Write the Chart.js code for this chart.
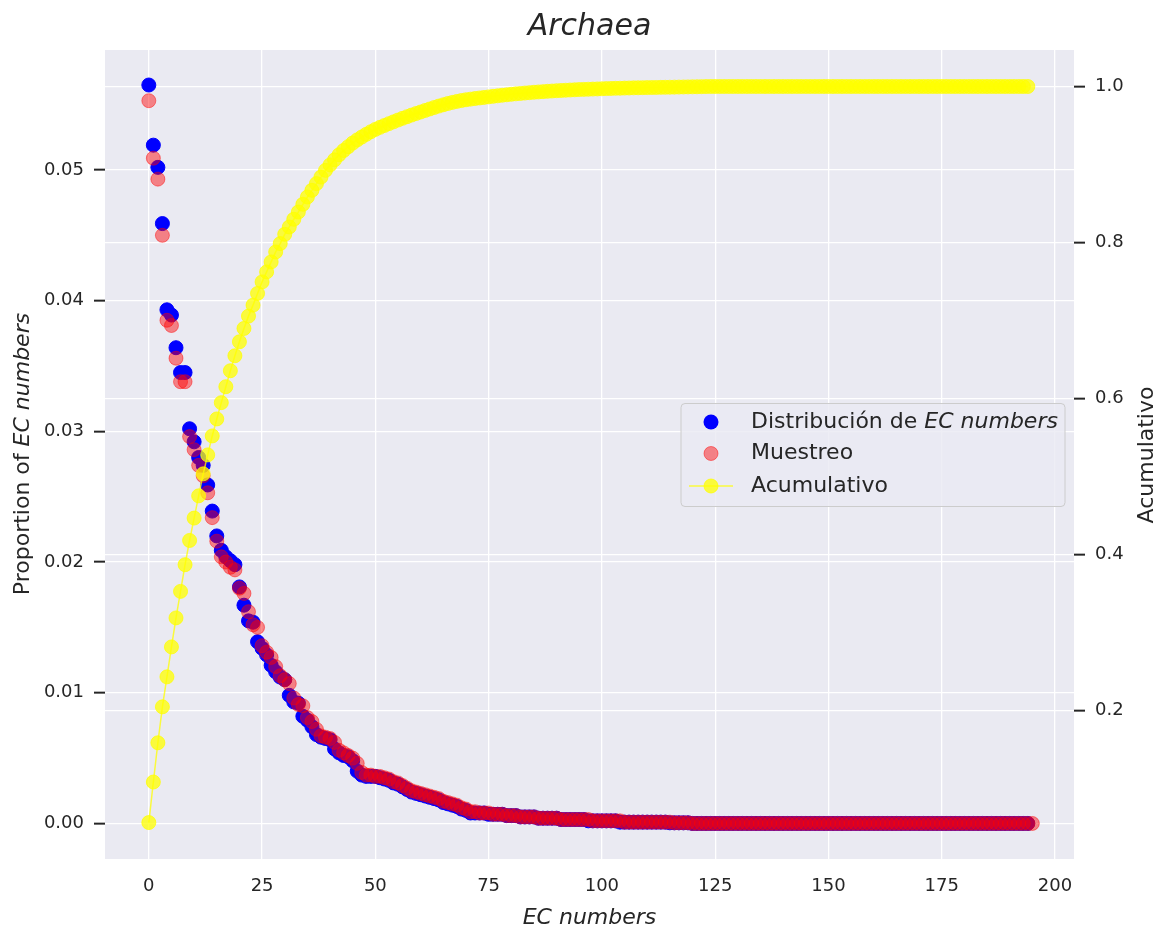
<!DOCTYPE html>
<html>
<head>
<meta charset="utf-8">
<script src="https://cdn.jsdelivr.net/npm/chart.js@4.4.1/dist/chart.umd.min.js"></script>
<style>
  html, body { margin: 0; padding: 0; background: #ffffff; }
  #wrap { width: 1157px; height: 930px; }
</style>
</head>
<body>
<div id="wrap"><canvas id="chart" width="1157" height="930"></canvas></div>
<script>
// proportion of each EC number (blue), index = EC number rank
const distribucion = [
  0.0565, 0.0519, 0.0502, 0.0459, 0.0393, 0.0389, 0.0364, 0.0345, 0.0345, 0.0302,
  0.0292, 0.0280, 0.0274, 0.0259, 0.0239, 0.0220, 0.0209, 0.0204, 0.0201, 0.0198,
  0.0181, 0.0167, 0.0155, 0.0154, 0.0139, 0.0134, 0.0129, 0.0121, 0.0116, 0.0112,
  0.0110, 0.0098, 0.0093, 0.0092, 0.0082, 0.0079, 0.0074, 0.0068, 0.0066, 0.0065,
  0.0064, 0.0057, 0.0054, 0.0052, 0.0051, 0.0048, 0.0040, 0.0037, 0.0036, 0.0036,
  0.0036, 0.0035, 0.0034, 0.0033, 0.0031, 0.0030, 0.0028, 0.0026, 0.0024, 0.0023,
  0.0022, 0.0021, 0.0020, 0.0019, 0.0018, 0.0016, 0.0015, 0.0014, 0.0013, 0.0011,
  0.0010, 0.0008, 0.0008, 0.0008, 0.0008, 0.0007, 0.0007, 0.0007, 0.0007, 0.0006,
  0.0006, 0.0006, 0.0005, 0.0005, 0.0005, 0.0005, 0.0004, 0.0004, 0.0004, 0.0004,
  0.0004, 0.0003, 0.0003, 0.0003, 0.0003, 0.0003, 0.0003, 0.0002, 0.0002, 0.0002,
  0.0002, 0.0002, 0.0002, 0.0002, 0.0001, 0.0001, 0.0001, 0.0001, 0.0001, 0.0001,
  0.0001, 0.0001, 0.0001, 0.0001, 0.0001, 0.00005, 0.00005, 0.00005, 0.00005, 0.00005,
  0, 0, 0, 0, 0, 0, 0, 0, 0, 0,
  0, 0, 0, 0, 0, 0, 0, 0, 0, 0,
  0, 0, 0, 0, 0, 0, 0, 0, 0, 0,
  0, 0, 0, 0, 0, 0, 0, 0, 0, 0,
  0, 0, 0, 0, 0, 0, 0, 0, 0, 0,
  0, 0, 0, 0, 0, 0, 0, 0, 0, 0,
  0, 0, 0, 0, 0, 0, 0, 0, 0, 0,
  0, 0, 0, 0, 0
];

// sampled proportions (red)
const muestreo = [
  0.0553, 0.0509, 0.0493, 0.0450, 0.0385, 0.0381, 0.0356, 0.0338, 0.0338, 0.0296,
  0.0286, 0.0274, 0.0266, 0.0253, 0.0234, 0.0216, 0.0204, 0.0200, 0.0196, 0.0194,
  0.0180, 0.0176, 0.0162, 0.0152, 0.0150, 0.0136, 0.0131, 0.0127, 0.0120, 0.0113,
  0.0110, 0.0107, 0.0096, 0.0091, 0.0090, 0.0081, 0.0078, 0.0072, 0.0067, 0.0066,
  0.0065, 0.0062, 0.0056, 0.0054, 0.0052, 0.0050, 0.0046, 0.0039, 0.0037, 0.0037,
  0.0036, 0.0036, 0.0035, 0.0034, 0.0032, 0.0031, 0.0029, 0.0027, 0.0025, 0.0024,
  0.0023, 0.0022, 0.0021, 0.0020, 0.0019, 0.0017, 0.0016, 0.0015, 0.0014, 0.0012,
  0.0011, 0.0009, 0.0009, 0.0008, 0.0008, 0.0008, 0.0007, 0.0007, 0.0007, 0.0006,
  0.0006, 0.0006, 0.0005, 0.0005, 0.0005, 0.0005, 0.0004, 0.0004, 0.0004, 0.0004,
  0.0004, 0.0003, 0.0003, 0.0003, 0.0003, 0.0003, 0.0003, 0.0003, 0.0002, 0.0002,
  0.0002, 0.0002, 0.0002, 0.0002, 0.0002, 0.0001, 0.0001, 0.0001, 0.0001, 0.0001,
  0.0001, 0.0001, 0.0001, 0.0001, 0.0001, 0.0001, 0.00005, 0.00005, 0.00005, 0.00005,
  0, 0, 0, 0, 0, 0, 0, 0, 0, 0,
  0, 0, 0, 0, 0, 0, 0, 0, 0, 0,
  0, 0, 0, 0, 0, 0, 0, 0, 0, 0,
  0, 0, 0, 0, 0, 0, 0, 0, 0, 0,
  0, 0, 0, 0, 0, 0, 0, 0, 0, 0,
  0, 0, 0, 0, 0, 0, 0, 0, 0, 0,
  0, 0, 0, 0, 0, 0, 0, 0, 0, 0,
  0, 0, 0, 0, 0, 0
];

// cumulative share (yellow, right axis)
const acumulativo = [
  0.0563, 0.1083, 0.1586, 0.2047, 0.2431, 0.2815, 0.3187, 0.3527, 0.3869, 0.4180,
  0.4467, 0.4752, 0.5034, 0.5277, 0.5520, 0.5738, 0.5947, 0.6151, 0.6356, 0.6548,
  0.6727, 0.6898, 0.7056, 0.7197, 0.7347, 0.7495, 0.7623, 0.7751, 0.7879, 0.7986,
  0.8105, 0.8199, 0.8298, 0.8391, 0.8490, 0.8583, 0.8669, 0.8755, 0.8839, 0.8925,
  0.8995, 0.9060, 0.9125, 0.9180, 0.9228, 0.9275, 0.9316, 0.9352, 0.9387, 0.9420,
  0.9450, 0.9476, 0.9500, 0.9524, 0.9547, 0.9570, 0.9592, 0.9613, 0.9634, 0.9654,
  0.9673, 0.9693, 0.9712, 0.9731, 0.9749, 0.9766, 0.9782, 0.9796, 0.9809, 0.9820,
  0.9830, 0.9838, 0.9846, 0.9853, 0.9860, 0.9867, 0.9874, 0.9881, 0.9888, 0.9894,
  0.9900, 0.9906, 0.9911, 0.9916, 0.9921, 0.9926, 0.9930, 0.9934, 0.9938, 0.9942,
  0.9946, 0.9949, 0.9952, 0.9955, 0.9958, 0.9961, 0.9963, 0.9965, 0.9967, 0.9969,
  0.9971, 0.9973, 0.9975, 0.9977, 0.9978, 0.9980, 0.9981, 0.9983, 0.9984, 0.9985,
  0.9986, 0.9987, 0.9988, 0.9989, 0.9990, 0.9991, 0.9992, 0.9993, 0.9994, 0.9995,
  0.9996, 0.9997, 0.9998, 0.9999, 1.0,
  1.0, 1.0, 1.0, 1.0, 1.0, 1.0, 1.0, 1.0, 1.0, 1.0,
  1.0, 1.0, 1.0, 1.0, 1.0, 1.0, 1.0, 1.0, 1.0, 1.0,
  1.0, 1.0, 1.0, 1.0, 1.0, 1.0, 1.0, 1.0, 1.0, 1.0,
  1.0, 1.0, 1.0, 1.0, 1.0, 1.0, 1.0, 1.0, 1.0, 1.0,
  1.0, 1.0, 1.0, 1.0, 1.0, 1.0, 1.0, 1.0, 1.0, 1.0,
  1.0, 1.0, 1.0, 1.0, 1.0, 1.0, 1.0, 1.0, 1.0, 1.0,
  1.0, 1.0, 1.0, 1.0, 1.0, 1.0, 1.0, 1.0, 1.0, 1.0
];

const xTicks = [0, 25, 50, 75, 100, 125, 150, 175, 200];
const leftTicks = [0.00, 0.01, 0.02, 0.03, 0.04, 0.05];
const rightTicks = [0.2, 0.4, 0.6, 0.8, 1.0];

const FONT = "'DejaVu Sans', sans-serif";
const TEXT = '#262626';
const BG = '#eaeaf2';

const toPoints = arr => arr.map((v, i) => ({ x: i, y: v }));

// write a string made of normal / italic pieces
function drawParts(ctx, parts, size, x, y, centered) {
    const widths = parts.map(p => {
        ctx.font = (p.i ? 'italic ' : '') + size + 'px ' + FONT;
        return ctx.measureText(p.t).width;
    });
    const total = widths.reduce((a, b) => a + b, 0);
    let cx = centered ? x - total / 2 : x;
    parts.forEach((p, k) => {
        ctx.font = (p.i ? 'italic ' : '') + size + 'px ' + FONT;
        ctx.fillText(p.t, cx, y);
        cx += widths[k];
    });
}

const decorations = {
    id: 'decorations',
    beforeDraw(chart) {
        const { ctx, chartArea: a } = chart;
        ctx.save();
        ctx.fillStyle = BG;
        ctx.fillRect(a.left, a.top, a.right - a.left, a.bottom - a.top);
        ctx.restore();
    },
    afterDraw(chart) {
        const { ctx, chartArea: a } = chart;
        const mid = (a.left + a.right) / 2;
        ctx.save();
        ctx.fillStyle = TEXT;
        ctx.textAlign = 'left';
        ctx.textBaseline = 'alphabetic';

        drawParts(ctx, [{ t: 'Archaea', i: true }], 30, mid, 35, true);
        drawParts(ctx, [{ t: 'EC numbers', i: true }], 22, mid, 924, true);

        ctx.save();
        ctx.translate(29, 454);
        ctx.rotate(-Math.PI / 2);
        drawParts(ctx, [{ t: 'Proportion of ' }, { t: 'EC numbers', i: true }], 22, 0, 0, true);
        ctx.restore();

        ctx.save();
        ctx.translate(1153, 455);
        ctx.rotate(-Math.PI / 2);
        drawParts(ctx, [{ t: 'Acumulativo' }], 22, 0, 0, true);
        ctx.restore();

        // legend
        ctx.beginPath();
        ctx.roundRect(681, 403.5, 384, 103, 4);
        ctx.fillStyle = 'rgba(234,234,242,0.8)';
        ctx.fill();
        ctx.strokeStyle = '#cccccc';
        ctx.lineWidth = 1;
        ctx.stroke();

        const mx = 711;
        const rows = [422, 453.5, 486];

        ctx.beginPath();
        ctx.arc(mx, rows[0], 7.5, 0, Math.PI * 2);
        ctx.fillStyle = '#0000ff';
        ctx.fill();

        ctx.beginPath();
        ctx.arc(mx, rows[1], 7, 0, Math.PI * 2);
        ctx.fillStyle = 'rgba(255,0,0,0.45)';
        ctx.fill();
        ctx.strokeStyle = 'rgba(255,0,0,0.45)';
        ctx.stroke();

        ctx.beginPath();
        ctx.moveTo(689, rows[2]);
        ctx.lineTo(733, rows[2]);
        ctx.strokeStyle = 'rgba(255,255,0,0.75)';
        ctx.lineWidth = 1.5;
        ctx.stroke();
        ctx.beginPath();
        ctx.arc(mx, rows[2], 7, 0, Math.PI * 2);
        ctx.fillStyle = 'rgba(255,255,0,0.75)';
        ctx.fill();
        ctx.lineWidth = 1;
        ctx.stroke();

        ctx.fillStyle = TEXT;
        ctx.textBaseline = 'middle';
        drawParts(ctx, [{ t: 'Distribución de ' }, { t: 'EC numbers', i: true }], 22, 751, rows[0], false);
        drawParts(ctx, [{ t: 'Muestreo' }], 22, 751, rows[1], false);
        drawParts(ctx, [{ t: 'Acumulativo' }], 22, 751, rows[2], false);
        ctx.restore();
    }
};

const tickFont = { family: FONT, size: 18 };

new Chart(document.getElementById('chart'), {
    type: 'scatter',
    data: {
        datasets: [
            {
                label: 'Acumulativo',
                data: toPoints(acumulativo),
                yAxisID: 'y1',
                showLine: true,
                borderColor: 'rgba(255,255,0,0.75)',
                borderWidth: 1.5,
                backgroundColor: 'rgba(255,255,0,0.75)',
                pointBorderColor: 'rgba(255,255,0,0.75)',
                pointBorderWidth: 1,
                pointRadius: 7,
                pointHoverRadius: 7,
                order: 1
            },
            {
                label: 'Muestreo',
                data: toPoints(muestreo),
                yAxisID: 'y',
                backgroundColor: 'rgba(255,0,0,0.45)',
                borderColor: 'rgba(255,0,0,0.45)',
                pointBorderWidth: 1,
                pointRadius: 7,
                pointHoverRadius: 7,
                order: 2
            },
            {
                label: 'Distribución de EC numbers',
                data: toPoints(distribucion),
                yAxisID: 'y',
                backgroundColor: '#0000ff',
                borderColor: '#0000ff',
                pointBorderWidth: 1,
                pointRadius: 7,
                pointHoverRadius: 7,
                order: 3
            }
        ]
    },
    options: {
        responsive: false,
        animation: false,
        devicePixelRatio: 1,
        layout: { padding: { top: 50, left: 0, right: 0, bottom: 0 } },
        plugins: {
            legend: { display: false },
            title: { display: false },
            tooltip: { enabled: false }
        },
        scales: {
            x: {
                type: 'linear',
                min: -9.67,
                max: 204.2,
                afterBuildTicks: ax => { ax.ticks = xTicks.map(v => ({ value: v })); },
                afterFit: s => { s.height = 71; },
                ticks: { font: tickFont, color: TEXT, padding: 17, maxRotation: 0, callback: v => String(v) },
                grid: { color: '#ffffff', lineWidth: 1.3, drawTicks: false },
                border: { display: false }
            },
            y: {
                position: 'left',
                min: -0.00272,
                max: 0.05918,
                afterBuildTicks: ax => { ax.ticks = leftTicks.map(v => ({ value: v })); },
                afterFit: s => { s.width = 105; },
                ticks: { font: tickFont, color: TEXT, padding: 10, callback: v => Number(v).toFixed(2) },
                grid: { color: '#ffffff', lineWidth: 1.3, drawTicks: true, tickLength: 11, tickColor: TEXT, tickWidth: 2 },
                border: { display: false }
            },
            y1: {
                position: 'right',
                min: 0.0096,
                max: 1.0468,
                afterBuildTicks: ax => { ax.ticks = rightTicks.map(v => ({ value: v })); },
                afterFit: s => { s.width = 83; },
                ticks: { font: tickFont, color: TEXT, padding: 10, callback: v => Number(v).toFixed(1) },
                grid: { color: '#ffffff', lineWidth: 1.3, drawTicks: true, tickLength: 11, tickColor: TEXT, tickWidth: 2 },
                border: { display: false }
            }
        }
    },
    plugins: [decorations]
});
</script>
</body>
</html>
